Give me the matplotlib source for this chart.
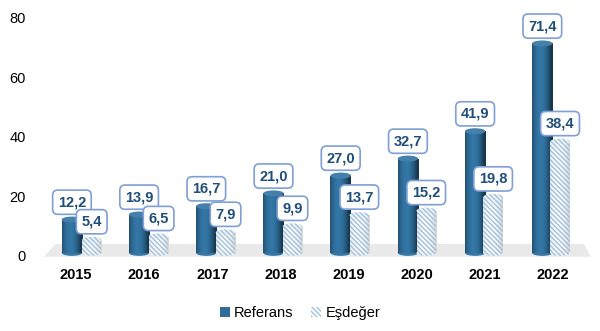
import numpy as np
import matplotlib
matplotlib.use("Agg")
import matplotlib.pyplot as plt
from matplotlib.patches import Ellipse, Rectangle, Polygon, Patch

plt.rcParams['font.family'] = ['Liberation Sans', 'DejaVu Sans']
plt.rcParams['hatch.linewidth'] = 1.0

years = ['2015', '2016', '2017', '2018', '2019', '2020', '2021', '2022']
referans = [12.2, 13.9, 16.7, 21.0, 27.0, 32.7, 41.9, 71.4]
esdeger = [5.4, 6.5, 7.9, 9.9, 13.7, 15.2, 19.8, 38.4]

dark = '#2f6e9a'
hatch_col = '#9fc0de'
label_col = '#1f4e79'
box_edge = '#7f9fd6'
hatch = '\\' * 7

fig = plt.figure(figsize=(6, 3.31), dpi=100)
ax = fig.add_axes([0.075, 0.227, 0.905, 0.719])
ax.set_xlim(-0.455, 7.51)
ax.set_ylim(0, 80)

# floor
floor = Polygon([(-0.47, -0.3), (7.55, -0.3), (7.45, 4.0), (-0.3, 4.0)],
                closed=True, facecolor='#e9e9e9', edgecolor='none', zorder=0, clip_on=False)
ax.add_patch(floor)

w = 0.30
x = np.arange(len(years))
ell_h = 2.0

# gradient for cylinder look
grad = np.linspace(0, 1, 64)
shade = np.clip(1.08 - 2.2 * (grad - 0.4) ** 2, 0.5, 1.15)
base = np.array(matplotlib.colors.to_rgb(dark))
img_dark = np.clip(base[None, :] * shade[:, None], 0, 1)[None, :, :]
lshade = np.clip(1.0 - 0.5 * (grad - 0.4) ** 2, 0.85, 1.0)
img_light = np.repeat(lshade[None, :, None], 3, axis=2)

n = len(years)
for i in range(n):
    t = i / (n - 1)
    xd = x[i] - 0.06 - 0.10 * t
    xl = x[i] + 0.23 - 0.13 * t
    # Referans cylinder
    r = Rectangle((xd - w / 2, 1.0), w, referans[i] - 1.0, facecolor='none', edgecolor='none')
    ax.add_patch(r)
    im = ax.imshow(img_dark, extent=(xd - w / 2, xd + w / 2, 1.0, referans[i]),
                   aspect='auto', zorder=2, interpolation='bilinear')
    im.set_clip_path(r)
    ax.add_patch(Ellipse((xd, 1.0), w, ell_h, facecolor=img_dark[0, 25], edgecolor='none', zorder=1.9))
    ax.add_patch(Ellipse((xd, referans[i]), w, ell_h, facecolor='#4580aa', edgecolor='none', zorder=3))

    # Esdeger cylinder
    wl = w * 0.95
    ax.add_patch(Ellipse((xl, 1.0), wl, ell_h, facecolor='#f3f3f3', edgecolor=hatch_col,
                         hatch=hatch, linewidth=0, zorder=3.9))
    r2 = Rectangle((xl - wl / 2, 1.0), wl, esdeger[i] - 1.0, facecolor='none', edgecolor='none')
    ax.add_patch(r2)
    im2 = ax.imshow(img_light, extent=(xl - wl / 2, xl + wl / 2, 1.0, esdeger[i]),
                    aspect='auto', zorder=3.95, interpolation='bilinear')
    im2.set_clip_path(r2)
    ax.bar(xl, esdeger[i] - 1.0, bottom=1.0, width=wl, color='none', edgecolor=hatch_col,
           hatch=hatch, linewidth=0, zorder=4)
    ax.add_patch(Ellipse((xl, esdeger[i]), wl, ell_h, facecolor='#eef3f8', edgecolor=hatch_col,
                         hatch=hatch, linewidth=0, zorder=4.1))

    bbox = dict(boxstyle='round,pad=0.35,rounding_size=0.35', facecolor='white',
                edgecolor=box_edge, linewidth=1.2)
    ax.annotate(f"{referans[i]:.1f}".replace('.', ','), (xd, referans[i]), xytext=(0, 12.5),
                textcoords='offset points', ha='center', va='center', fontsize=10.5,
                fontweight='bold', color=label_col, bbox=bbox, zorder=6)
    ax.annotate(f"{esdeger[i]:.1f}".replace('.', ','), (xl, esdeger[i]), xytext=(0, 13),
                textcoords='offset points', ha='center', va='center', fontsize=10.5,
                fontweight='bold', color=label_col, bbox=bbox, zorder=6)

ax.set_xticks(x)
ax.set_xticklabels(years, fontsize=10.5, fontweight='bold')
ax.set_yticks([0, 20, 40, 60, 80])
ax.tick_params(axis='y', labelsize=10.5, length=0, pad=14)
ax.tick_params(axis='x', length=0, pad=9)
for s in ax.spines.values():
    s.set_visible(False)

handles = [Patch(facecolor=dark, edgecolor='none', label='Referans'),
           Patch(facecolor='white', edgecolor=hatch_col, hatch=hatch, linewidth=0, label='Eşdeğer')]
fig.legend(handles=handles, loc='center', bbox_to_anchor=(0.5, 0.055), ncol=2, frameon=False,
           fontsize=10.5, handlelength=0.7, handleheight=0.7, handletextpad=0.3, columnspacing=1.2)

fig.savefig('out.png', dpi=100)
